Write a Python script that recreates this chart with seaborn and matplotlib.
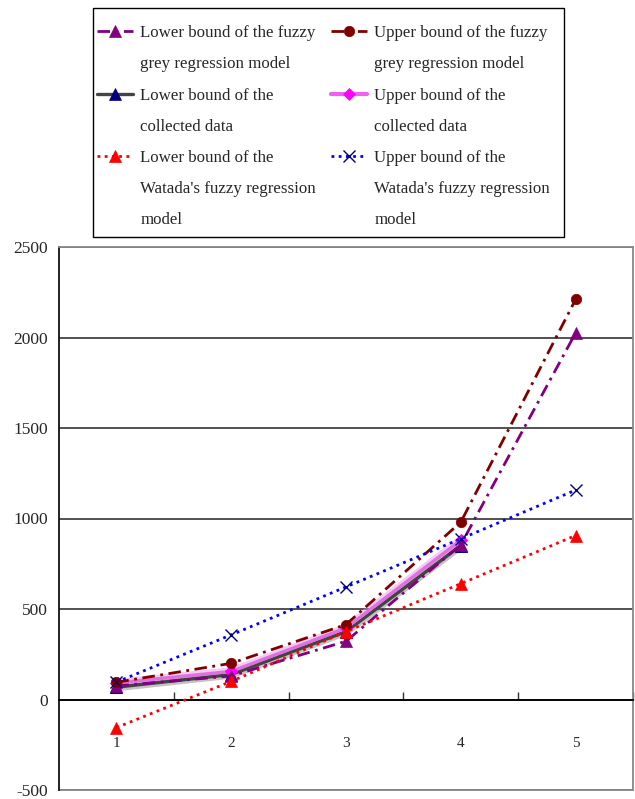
import matplotlib
matplotlib.use("Agg")
import matplotlib.pyplot as plt
from matplotlib.lines import Line2D
from matplotlib.patches import Rectangle
import seaborn as sns

# Periods and series values
periods = [1, 2, 3, 4, 5]
fgr_lower = [75, 130, 322, 855, 2025]
fgr_upper = [95, 200, 414, 980, 2210]
data_periods = [1, 2, 3, 4]
data_lower = [68, 138, 375, 850]
data_upper = [92, 155, 395, 880]
watada_lower = [-155, 100, 375, 640, 906]
watada_upper = [96, 357, 622, 888, 1157]

y_ticks = [-500, 0, 500, 1000, 1500, 2000, 2500]
x_labels = ["1", "2", "3", "4", "5"]

labels = {
    "fgr_lower": ["Lower bound of the fuzzy", "grey regression model"],
    "fgr_upper": ["Upper bound of the fuzzy", "grey regression model"],
    "data_lower": ["Lower bound of the", "collected data"],
    "data_upper": ["Upper bound of the", "collected data"],
    "watada_lower": ["Lower bound of the", "Watada's fuzzy regression", "model"],
    "watada_upper": ["Upper bound of the", "Watada's fuzzy regression", "model"],
}

sns.set_theme(style="white")
plt.rcParams["font.family"] = ["Liberation Serif", "DejaVu Serif"]

W, H = 635, 799
fig = plt.figure(figsize=(W / 100, H / 100), dpi=100)
ax = fig.add_axes([59 / W, 9 / H, 574 / W, 543 / H])

purple = "#800080"
darkred = "#800000"
navy = "#000080"
magenta = "#FF00FF"
red = "#FF0000"
blue = "#0000FF"

dash_long = (4.5, 2.0, 1.0, 2.0)
dots = (1.0, 1.6)

# collected data: soft wide strokes under a solid core
sns.lineplot(x=data_periods, y=data_lower, ax=ax, color="#555555", lw=6,
             alpha=0.35, legend=False, zorder=2)
sns.lineplot(x=data_periods, y=data_upper, ax=ax, color="#EE88EE", lw=6,
             alpha=0.45, legend=False, zorder=2)
sns.lineplot(x=data_periods, y=data_lower, ax=ax, color="#444444", lw=2.4,
             marker="^", ms=8, mfc=navy, mec=navy, legend=False, zorder=3)
sns.lineplot(x=data_periods, y=data_upper, ax=ax, color="#E070E0", lw=2.4,
             marker="D", ms=6, mfc=magenta, mec=magenta, legend=False, zorder=3)

styles = [
    (fgr_lower, purple, dash_long, "^", purple, 8),
    (fgr_upper, darkred, dash_long, "o", darkred, 7.5),
    (watada_lower, red, dots, "^", red, 8),
    (watada_upper, blue, dots, "x", navy, 9),
]
for vals, col, dash, mk, mcol, ms in styles:
    sns.lineplot(x=periods, y=vals, ax=ax, color=col, lw=2.0, legend=False,
                 zorder=4)
    ln = ax.lines[-1]
    ln.set_dashes(dash)
    ln.set_dash_capstyle("butt")
    ax.plot(periods, vals, ls="none", marker=mk, ms=ms, mfc=mcol, mec=mcol,
            mew=1.0 if mk == "x" else 0.5, zorder=5)

ax.set_xlim(0.5, 5.5)
ax.set_ylim(-500, 2500)
ax.set_yticks(y_ticks)
ax.set_yticklabels([str(v) for v in y_ticks], fontsize=12.5)
ax.yaxis.grid(True, color="#333333", lw=1.2)
ax.set_axisbelow(True)

# category boundaries as major ticks, labels at category centres
ax.set_xticks([1.5, 2.5, 3.5, 4.5, 5.5])
ax.set_xticklabels([])
ax.set_xticks(periods, minor=True)
ax.set_xticklabels(x_labels, minor=True, fontsize=12.5)
ax.tick_params(axis="x", which="major", direction="in", length=6, width=1,
               color="#333333")
ax.tick_params(axis="x", which="minor", length=0, pad=27)
ax.tick_params(axis="y", which="major", length=0, pad=8)

for side in ["top", "right"]:
    ax.spines[side].set_color("#888888")
    ax.spines[side].set_linewidth(1.3)
ax.spines["left"].set_color("#111111")
ax.spines["left"].set_linewidth(1.3)
ax.axhline(-500, color="#888888", lw=1.3, zorder=1, clip_on=False)
# horizontal axis sits on the zero line
ax.xaxis.set_ticks_position("bottom")
ax.spines["bottom"].set_position(("data", 0))
ax.spines["bottom"].set_color("black")
ax.spines["bottom"].set_linewidth(1.3)


def handle(color, dash=None, lw=2.0, marker=None, mcol=None, ms=8, mew=0.5):
    h = Line2D([], [], color=color, lw=lw, marker=marker, ms=ms,
               mfc=mcol, mec=mcol, mew=mew)
    if dash is not None:
        h.set_dashes(dash)
        h.set_dash_capstyle("butt")
    return h


def blank():
    return Line2D([], [], color="none", lw=0)


col1 = [
    (handle(purple, dash_long, marker="^", mcol=purple), labels["fgr_lower"]),
    (handle("#444444", None, lw=2.4, marker="^", mcol=navy), labels["data_lower"]),
    (handle(red, dots, marker="^", mcol=red), labels["watada_lower"]),
]
col2 = [
    (handle(darkred, dash_long, marker="o", mcol=darkred, ms=7.5), labels["fgr_upper"]),
    (handle("#F060F0", None, lw=3, marker="D", mcol=magenta, ms=6), labels["data_upper"]),
    (handle(blue, dots, marker="x", mcol=navy, ms=9, mew=1.0), labels["watada_upper"]),
]


def expand(col):
    hs, ls = [], []
    for h, lines in col:
        hs.append(h)
        ls.append(lines[0])
        for extra in lines[1:]:
            hs.append(blank())
            ls.append(extra)
    return hs, ls


h1, l1 = expand(col1)
h2, l2 = expand(col2)
leg = fig.legend(h1 + h2, l1 + l2, ncol=2, loc="upper left",
                 bbox_to_anchor=(97 / W, 1 - 25 / H), fontsize=12.2,
                 frameon=False, handlelength=2.1, handletextpad=0.45,
                 labelspacing=0.9, columnspacing=0.9, borderpad=0,
                 borderaxespad=0)

# legend box
fig.patches.append(Rectangle((93 / W, 1 - 237 / H), (564 - 93) / W,
                             (237 - 8) / H, transform=fig.transFigure,
                             fill=False, edgecolor="black", lw=1.0))

fig.savefig("out.png", dpi=100, facecolor="white")
